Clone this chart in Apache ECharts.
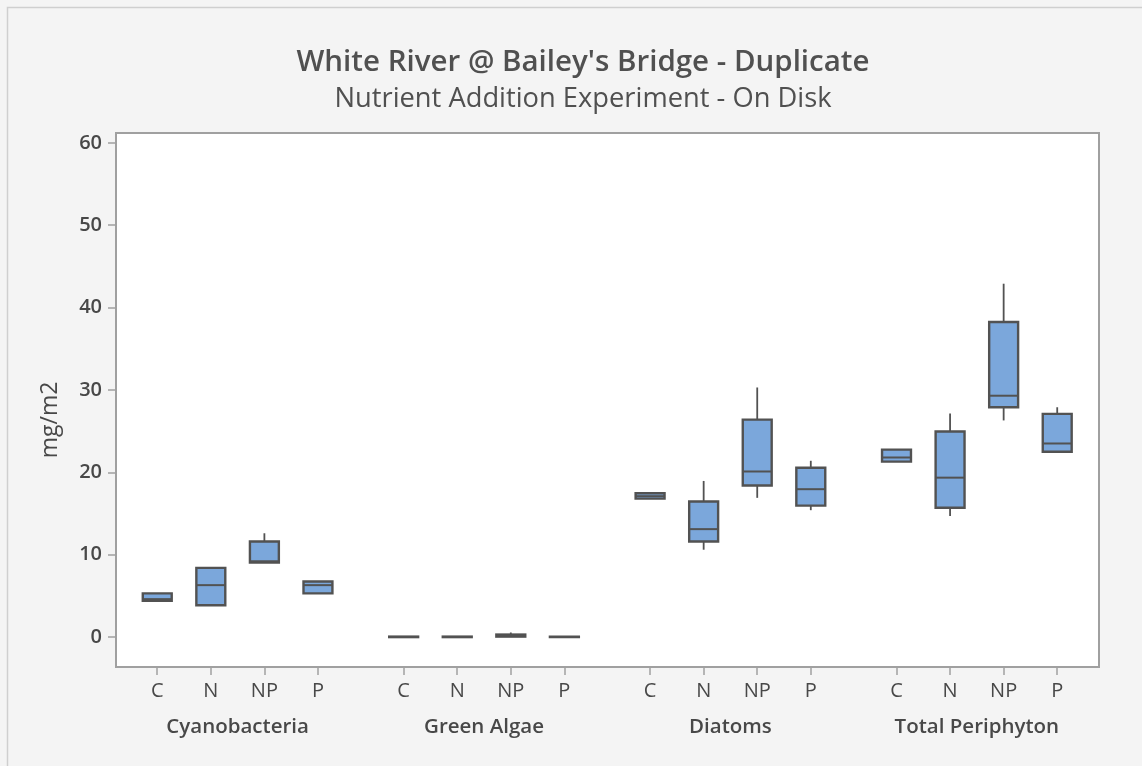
<!DOCTYPE html>
<html>
<head>
<meta charset="utf-8">
<script src="https://cdn.jsdelivr.net/npm/echarts@6/dist/echarts.min.js"></script>
<style>
html,body{margin:0;padding:0;background:#f4f4f4;}
#chart{width:1142px;height:766px;}
</style>
</head>
<body>
<div id="chart"></div>
<script>
// ---- data ----
const groups = ['Cyanobacteria', 'Green Algae', 'Diatoms', 'Total Periphyton'];
const treatments = ['C', 'N', 'NP', 'P'];
// [min, Q1, median, Q3, max] per group, per treatment (C, N, NP, P)
const cyanobacteria = [
  [4.4, 4.4, 4.6, 5.3, 5.3],
  [3.85, 3.85, 6.3, 8.4, 8.4],
  [9.05, 9.05, 9.2, 11.6, 12.6],
  [5.3, 5.3, 6.3, 6.75, 6.75]
];
const greenAlgae = [
  [0.0, 0.0, 0.0, 0.05, 0.05],
  [0.0, 0.0, 0.0, 0.05, 0.05],
  [0.0, 0.05, 0.15, 0.3, 0.55],
  [0.0, 0.0, 0.0, 0.05, 0.05]
];
const diatoms = [
  [16.8, 16.8, 17.1, 17.45, 17.45],
  [10.6, 11.6, 13.1, 16.45, 18.95],
  [16.9, 18.4, 20.1, 26.4, 30.3],
  [15.4, 15.95, 17.95, 20.55, 21.4]
];
const totalPeriphyton = [
  [21.3, 21.3, 21.8, 22.75, 22.75],
  [14.7, 15.7, 19.35, 24.95, 27.15],
  [26.3, 27.9, 29.3, 38.25, 42.9],
  [22.5, 22.5, 23.5, 27.1, 27.9]
];
const yTicks = [0, 10, 20, 30, 40, 50, 60];

const groupData = [cyanobacteria, greenAlgae, diatoms, totalPeriphyton];
const groupStep = 4.6;   // slot positions: treatments 1 apart, groups separated by extra gap
const pos = (g, t) => g * groupStep + t;

const boxes = [];
const catTicks = [];
const catLabelMap = {};
groupData.forEach((gd, g) => {
  gd.forEach((v, t) => {
    const x = +pos(g, t).toFixed(2);
    boxes.push([x].concat(v));
    catTicks.push(x);
    catLabelMap[x] = treatments[t];
  });
});
const groupCenters = groups.map((_, g) => +pos(g, 1.5).toFixed(2));
const groupLabelMap = {};
groupCenters.forEach((c, g) => { groupLabelMap[c] = groups[g]; });

const textColor = '#484848';
const font = '"Open Sans", "Noto Sans", sans-serif';
const chart = echarts.init(document.getElementById('chart'));
chart.setOption({
  backgroundColor: '#f4f4f4',
  animation: false,
  graphic: [{
    type: 'rect', left: 5, top: 5, silent: true,
    shape: { width: 1160, height: 790 },
    style: { fill: 'none', stroke: '#cfcfcf', lineWidth: 1.5 }
  }],
  title: {
    text: "White River @ Bailey's Bridge - Duplicate",
    subtext: 'Nutrient Addition Experiment - On Disk',
    left: 578, textAlign: 'center', top: 43,
    itemGap: 8,
    textStyle: { fontFamily: font, fontSize: 29.5, fontWeight: 600, color: '#505050' },
    subtextStyle: { fontFamily: font, fontSize: 27.3, fontWeight: 'normal', color: '#505050' }
  },
  grid: {
    left: 116, right: 43, top: 133, bottom: 99,
    show: true, backgroundColor: '#ffffff', borderColor: '#a0a0a0', borderWidth: 2
  },
  xAxis: [{
    type: 'value', min: -0.77, max: 17.58,
    splitLine: { show: false },
    axisLine: { show: false, onZero: false },
    axisTick: { show: true, customValues: catTicks, length: 8, lineStyle: { color: '#a0a0a0', width: 1.5 } },
    axisLabel: {
      customValues: catTicks, margin: 14,
      formatter: v => catLabelMap[+v.toFixed(2)] || '',
      fontFamily: font, fontSize: 20, fontWeight: 500, color: textColor
    }
  }, {
    type: 'value', min: -0.77, max: 17.58, position: 'bottom',
    splitLine: { show: false }, axisLine: { show: false, onZero: false }, axisTick: { show: false },
    axisLabel: {
      customValues: groupCenters, margin: 50,
      formatter: v => groupLabelMap[+v.toFixed(2)] || '',
      fontFamily: font, fontSize: 20.5, fontWeight: 600, color: textColor
    }
  }],
  yAxis: {
    type: 'value', min: -3.64, max: 61.2,
    name: 'mg/m2', nameLocation: 'middle', nameGap: 54, nameRotate: 90,
    nameTextStyle: { fontFamily: font, fontSize: 23, color: textColor, padding: [0, 40, 0, 0] },
    splitLine: { show: false },
    axisLine: { show: false, onZero: false },
    axisTick: { show: true, customValues: yTicks, length: 8, lineStyle: { color: '#a0a0a0', width: 1.5 } },
    axisLabel: {
      customValues: yTicks, margin: 14,
      fontFamily: font, fontSize: 20, fontWeight: 600, color: textColor
    }
  },
  series: [{
    type: 'custom',
    xAxisIndex: 0, yAxisIndex: 0,
    data: boxes,
    encode: { x: 0, y: [1, 2, 3, 4, 5] },
    renderItem: function (params, api) {
      const x = api.value(0);
      const pMin = api.coord([x, api.value(1)]);
      const pQ1 = api.coord([x, api.value(2)]);
      const pMed = api.coord([x, api.value(3)]);
      const pQ3 = api.coord([x, api.value(4)]);
      const pMax = api.coord([x, api.value(5)]);
      const w = api.size([0.54, 0])[0];
      const cx = pMed[0];
      const stroke = '#525252';
      const top = pQ3[1], bot = pQ1[1];
      return {
        type: 'group',
        children: [
          { type: 'line', shape: { x1: cx, y1: pMax[1], x2: cx, y2: top }, style: { stroke: stroke, lineWidth: 1.8 } },
          { type: 'line', shape: { x1: cx, y1: bot, x2: cx, y2: pMin[1] }, style: { stroke: stroke, lineWidth: 1.8 } },
          { type: 'rect', shape: { x: cx - w / 2, y: top, width: w, height: Math.max(bot - top, 0.5) },
            style: { fill: '#7ba7db', stroke: stroke, lineWidth: 2.4 } },
          { type: 'line', shape: { x1: cx - w / 2, y1: pMed[1], x2: cx + w / 2, y2: pMed[1] }, style: { stroke: stroke, lineWidth: 2 } }
        ]
      };
    }
  }]
});
</script>
</body>
</html>
